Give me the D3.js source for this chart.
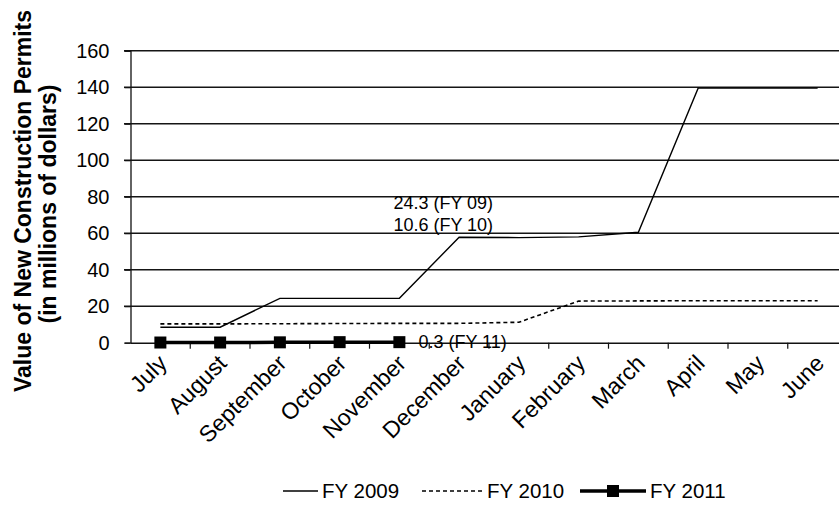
<!DOCTYPE html>
<html lang="en">
<head>
  <meta charset="UTF-8" />
  <title>New Construction Permits</title>
  <script src="https://cdn.jsdelivr.net/npm/d3@7"></script>
  <style>
    body { margin: 0; background: #fff; }
    svg { display: block; font-family: Arial, "Liberation Sans", sans-serif; }
  </style>
</head>
<body>
<script>
  // chart data (millions of dollars, cumulative by month)
  var months = ["July", "August", "September", "October", "November", "December",
                "January", "February", "March", "April", "May", "June"];
  var fy2009 = [8.5, 8.5, 24.3, 24.3, 24.3, 57.8, 57.6, 58.0, 60.5, 139.5, 139.5, 139.5];
  var fy2010 = [10.3, 10.3, 10.4, 10.5, 10.6, 10.6, 11.2, 22.8, 22.9, 23.0, 23.0, 23.0];
  var fy2011 = [0.1, 0.1, 0.2, 0.3, 0.3];
  var seriesNames = ["FY 2009", "FY 2010", "FY 2011"];
  var yTicks = [0, 20, 40, 60, 80, 100, 120, 140, 160];

  var w = 839;
  var h = 516;

  var svg = d3.select("body").append("svg")
    .attr("width", w)
    .attr("height", h);

  // plot runs a little past the right edge, like the scan
  var x = d3.scaleBand()
    .domain(months)
    .range([130.5, 847.5]);

  var y = d3.scaleLinear()
    .domain([0, 160])
    .range([342.7, 50.7]);

  // gridlines
  svg.append("g")
    .selectAll("line")
    .data(yTicks.slice(1))
    .enter()
    .append("line")
    .attr("x1", 124)
    .attr("x2", 847)
    .attr("y1", function(d) { return y(d); })
    .attr("y2", function(d) { return y(d); })
    .style("stroke", "#151515")
    .style("stroke-width", 1.5);

  // y axis
  var yAxis = svg.append("g")
    .attr("transform", "translate(130.5,0)")
    .call(d3.axisLeft(y).tickValues(yTicks).tickSize(6).tickPadding(15));
  yAxis.select(".domain").style("stroke", "#111").style("stroke-width", 1.3);
  yAxis.selectAll(".tick line").style("stroke", "#111").style("stroke-width", 1.2);
  yAxis.selectAll("text")
    .attr("font-size", "20px")
    .attr("font-family", "Arial, 'Liberation Sans', sans-serif")
    .style("fill", "#000");

  // x axis
  var xAxis = svg.append("g")
    .attr("transform", "translate(0," + y(0) + ")")
    .call(d3.axisBottom(x).tickSize(0).tickPadding(0));
  xAxis.select(".domain").style("stroke", "#111").style("stroke-width", 1.5);
  xAxis.selectAll("text")
    .attr("font-size", "23px")
    .attr("font-family", "Arial, 'Liberation Sans', sans-serif")
    .attr("text-anchor", "end")
    .attr("dy", 0)
    .attr("transform", "translate(8,22) rotate(-45)")
    .style("fill", "#000");

  // tick marks between categories
  svg.append("g")
    .selectAll("line")
    .data(months.slice(1))
    .enter()
    .append("line")
    .attr("x1", function(d) { return x(d); })
    .attr("x2", function(d) { return x(d); })
    .attr("y1", y(0))
    .attr("y2", y(0) + 6)
    .style("stroke", "#111")
    .style("stroke-width", 1.2);

  var line = d3.line()
    .x(function(d, i) { return x(months[i]) + x.bandwidth() / 2; })
    .y(function(d) { return y(d); });

  svg.append("path")
    .datum(fy2010)
    .attr("d", line)
    .style("fill", "none")
    .style("stroke", "#000")
    .style("stroke-width", 1.6)
    .style("stroke-dasharray", "4,3");

  svg.append("path")
    .datum(fy2009)
    .attr("d", line)
    .style("fill", "none")
    .style("stroke", "#000")
    .style("stroke-width", 1.4);

  svg.append("path")
    .datum(fy2011)
    .attr("d", line)
    .style("fill", "none")
    .style("stroke", "#000")
    .style("stroke-width", 3.5);

  svg.append("g")
    .selectAll("rect")
    .data(fy2011)
    .enter()
    .append("rect")
    .attr("x", function(d, i) { return x(months[i]) + x.bandwidth() / 2 - 6; })
    .attr("y", function(d) { return y(d) - 6; })
    .attr("width", 12)
    .attr("height", 12)
    .style("fill", "#000");

  // value annotations
  var dec = x("December") + x.bandwidth() / 2;
  svg.append("text")
    .attr("x", dec + 34)
    .attr("y", y(fy2009[5]) - 28)
    .attr("text-anchor", "end")
    .attr("font-size", "18px")
    .text(fy2009[4] + " (FY 09)");
  svg.append("text")
    .attr("x", dec + 34)
    .attr("y", y(fy2009[5]) - 6)
    .attr("text-anchor", "end")
    .attr("font-size", "18px")
    .text(fy2010[4] + " (FY 10)");
  svg.append("text")
    .attr("x", x("November") + x.bandwidth() / 2 + 19)
    .attr("y", y(fy2011[4]) + 6)
    .attr("font-size", "18px")
    .text(fy2011[4] + " (FY 11)");

  // y axis title
  svg.append("text")
    .attr("transform", "translate(31,201) rotate(-90)")
    .attr("text-anchor", "middle")
    .attr("font-size", "23px")
    .attr("font-weight", "bold")
    .text("Value of New Construction Permits");
  svg.append("text")
    .attr("transform", "translate(56,204) rotate(-90)")
    .attr("text-anchor", "middle")
    .attr("font-size", "23px")
    .attr("font-weight", "bold")
    .text("(in millions of dollars)");

  // legend
  var legendX = [283, 422, 580];
  var legendLen = [35, 61, 66];
  var legendY = 491;
  seriesNames.forEach(function(name, i) {
    var g = svg.append("g");
    var l = g.append("line")
      .attr("x1", legendX[i])
      .attr("x2", legendX[i] + legendLen[i])
      .attr("y1", legendY)
      .attr("y2", legendY)
      .style("stroke", "#000");
    if (i === 0) l.style("stroke-width", 1.3);
    if (i === 1) l.style("stroke-width", 1.5).style("stroke-dasharray", "4,3");
    if (i === 2) {
      l.style("stroke-width", 3.5);
      g.append("rect")
        .attr("x", legendX[i] + legendLen[i] / 2 - 6)
        .attr("y", legendY - 6)
        .attr("width", 12)
        .attr("height", 12)
        .style("fill", "#000");
    }
    g.append("text")
      .attr("x", legendX[i] + legendLen[i] + 4)
      .attr("y", legendY + 7)
      .attr("font-size", "20.5px")
      .text(name);
  });
</script>
</body>
</html>
